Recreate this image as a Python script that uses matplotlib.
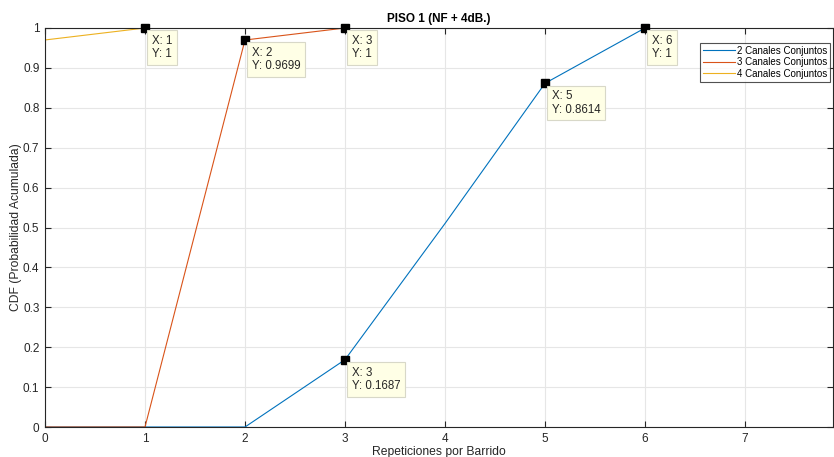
import matplotlib.pyplot as plt
import numpy as np

x = [0, 1, 2, 3, 4, 5, 6, 7]
cdf_2 = [0, 0, 0, 0.1687, 0.51, 0.8614, 1, 1]
cdf_3 = [0, 0, 0.9699, 1, 1, 1, 1, 1]
cdf_4 = [0.97, 1, 1, 1, 1, 1, 1, 1]
labels = ["2 Canales Conjuntos", "3 Canales Conjuntos", "4 Canales Conjuntos"]
tips_x = [1, 2, 3, 3, 5, 6]
tips_y = [1, 0.9699, 1, 0.1687, 0.8614, 1]
tips_txt = ["X: 1\nY: 1", "X: 2\nY: 0.9699", "X: 3\nY: 1",
            "X: 3\nY: 0.1687", "X: 5\nY: 0.8614", "X: 6\nY: 1"]

plt.rcParams['font.family'] = ['Liberation Sans', 'DejaVu Sans']
fig = plt.figure(figsize=(8.34, 4.57), dpi=100)
ax = fig.add_axes([45 / 834, 1 - 427 / 457, 788 / 834, 399 / 457])

ax.plot(x, cdf_2, color='#0072BD', lw=0.8, label=labels[0])
ax.plot(x, cdf_3, color='#D95319', lw=0.8, label=labels[1])
ax.plot(x, cdf_4, color='#EDB120', lw=0.8, label=labels[2])

for tx, ty, t in zip(tips_x, tips_y, tips_txt):
    ax.plot(tx, ty, 's', color='black', ms=5.5, mec='black', zorder=5, clip_on=False)
    ax.annotate(t, (tx, ty), xytext=(5, -5), textcoords='offset points',
                ha='left', va='top', fontsize=8.3, color='#262626', zorder=6,
                linespacing=1.15,
                bbox=dict(boxstyle='square,pad=0.4', fc='#FFFFE6', ec='#D8D8C8', lw=0.8))

ax.set_xlim(0, 7.88)
ax.set_ylim(0, 1)
ax.set_xticks(np.arange(0, 8))
ax.set_yticks(np.arange(0, 1.01, 0.1))
ax.set_yticklabels(['0', '0.1', '0.2', '0.3', '0.4', '0.5', '0.6', '0.7', '0.8', '0.9', '1'])
ax.grid(True, color='#E6E6E6', lw=0.8)
ax.set_axisbelow(True)
ax.tick_params(direction='in', labelsize=8.5, colors='#262626', length=4, width=0.8,
               top=True, right=True, pad=4)
for s in ax.spines.values():
    s.set_color('#262626')
    s.set_linewidth(0.8)

ax.set_title("PISO 1 (NF + 4dB.)", fontsize=8.5, fontweight='bold', pad=4)
ax.set_xlabel("Repeticiones por Barrido", fontsize=8.7, color='#262626', labelpad=1)
ax.set_ylabel("CDF (Probabilidad Acumulada)", fontsize=8.7, color='#262626', labelpad=1)

leg = ax.legend(loc='upper right', bbox_to_anchor=(1.0, 0.97), fontsize=7,
                frameon=True, fancybox=False, borderpad=0.3, handlelength=3.3,
                handletextpad=0.2, labelspacing=0.15, borderaxespad=0.3)
leg.get_frame().set_edgecolor('#262626')
leg.get_frame().set_linewidth(0.8)

fig.savefig("out.png", dpi=100)
